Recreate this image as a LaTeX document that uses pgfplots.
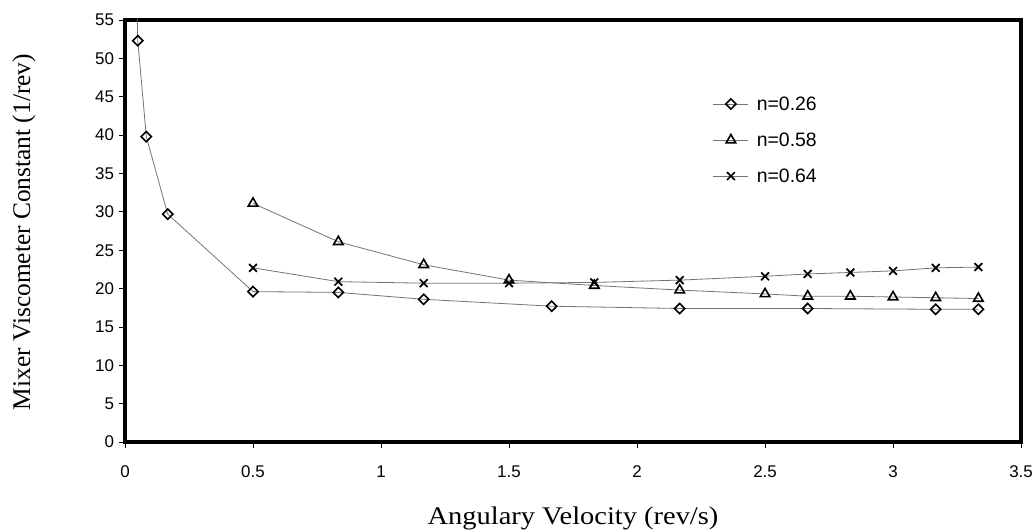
\documentclass[border=0pt]{standalone}
\usepackage{graphicx}
\usepackage{pgfplots}
\pgfplotsset{compat=1.18}
\usepackage{fontspec}
\setmainfont{Liberation Serif}
\newfontfamily\arial{Liberation Sans}

\pgfplotstableread{
x y
0.0333 75
0.05 52.3
0.0833 39.8
0.1667 29.7
0.5 19.6
0.8333 19.5
1.1667 18.6
1.6667 17.7
2.1667 17.4
2.6667 17.4
3.1667 17.3
3.3333 17.3
}\seriesA
\pgfplotstableread{
x y
0.5 31.1
0.8333 26.1
1.1667 23.1
1.5 21.1
1.8333 20.4
2.1667 19.8
2.5 19.3
2.6667 19.0
2.8333 19.0
3.0 18.9
3.1667 18.8
3.3333 18.7
}\seriesB
\pgfplotstableread{
x y
0.5 22.7
0.8333 20.9
1.1667 20.7
1.5 20.7
1.8333 20.8
2.1667 21.1
2.5 21.6
2.6667 21.9
2.8333 22.1
3.0 22.3
3.1667 22.7
3.3333 22.8
}\seriesC

\begin{document}
\begin{tikzpicture}
\begin{axis}[
  scale only axis,
  width=896bp, height=422bp,
  xmin=0, xmax=3.5, ymin=0, ymax=55,
  xtick={0,0.5,1,1.5,2,2.5,3,3.5},
  ytick={0,5,10,15,20,25,30,35,40,45,50,55},
  /pgf/number format/assume math mode=true,
  tick label style={font=\arial\fontsize{17}{19}\selectfont},
  yticklabel style={xshift=-1.5bp},
  xticklabel style={yshift=-14bp},
  axis line style={line width=3.5bp},
  tick style={black, line width=0.8bp},
  tick align=outside,
  major tick length=6bp,
  xtick pos=bottom, ytick pos=left,
  clip=true,
  xlabel={\scalebox{1.12}[1]{Angulary Velocity (rev/s)}},
  ylabel={Mixer Viscometer Constant (1/rev)},
  label style={font=\fontsize{25.5}{30}\selectfont},
  xlabel style={at={(axis description cs:0.5,-0.182)}, anchor=center},
  ylabel style={at={(axis description cs:-0.1127,0.4976)}, anchor=center, rotate=0},
  legend style={draw=none, fill=none, at={(axis description cs:0.656,0.7156)}, anchor=west,
    font=\arial\fontsize{19.5}{22}\selectfont, row sep=17bp, inner sep=0pt},
  legend cell align=left,
  legend image code/.code={\draw[mark repeat=2,mark phase=2,#1] plot coordinates {(0bp,0bp) (17.5bp,0bp) (35bp,0bp)};},
  every axis plot/.append style={draw=black!55, line width=0.8bp},
]
\addplot[mark=square, mark size=3.6bp, mark options={draw=black, fill=white, rotate=45, line width=1.6bp}] table[x=x,y=y] {\seriesA};
\addlegendentry{\hspace{6bp}n=0.26}
\addplot[mark=triangle, mark size=5.5bp, mark options={draw=black, fill=white, line width=1.6bp}] table[x=x,y=y] {\seriesB};
\addlegendentry{\hspace{6bp}n=0.58}
\addplot[mark=x, mark size=5.5bp, mark options={draw=black, line width=1.7bp}] table[x=x,y=y] {\seriesC};
\addlegendentry{\hspace{6bp}n=0.64}
\coordinate (bl) at (axis description cs:-0.1395,-0.2062);
\coordinate (tr) at (axis description cs:1.0167,1.0474);
\end{axis}
\pgfresetboundingbox
\path[use as bounding box] (bl) rectangle (tr);
\end{tikzpicture}
\end{document}
